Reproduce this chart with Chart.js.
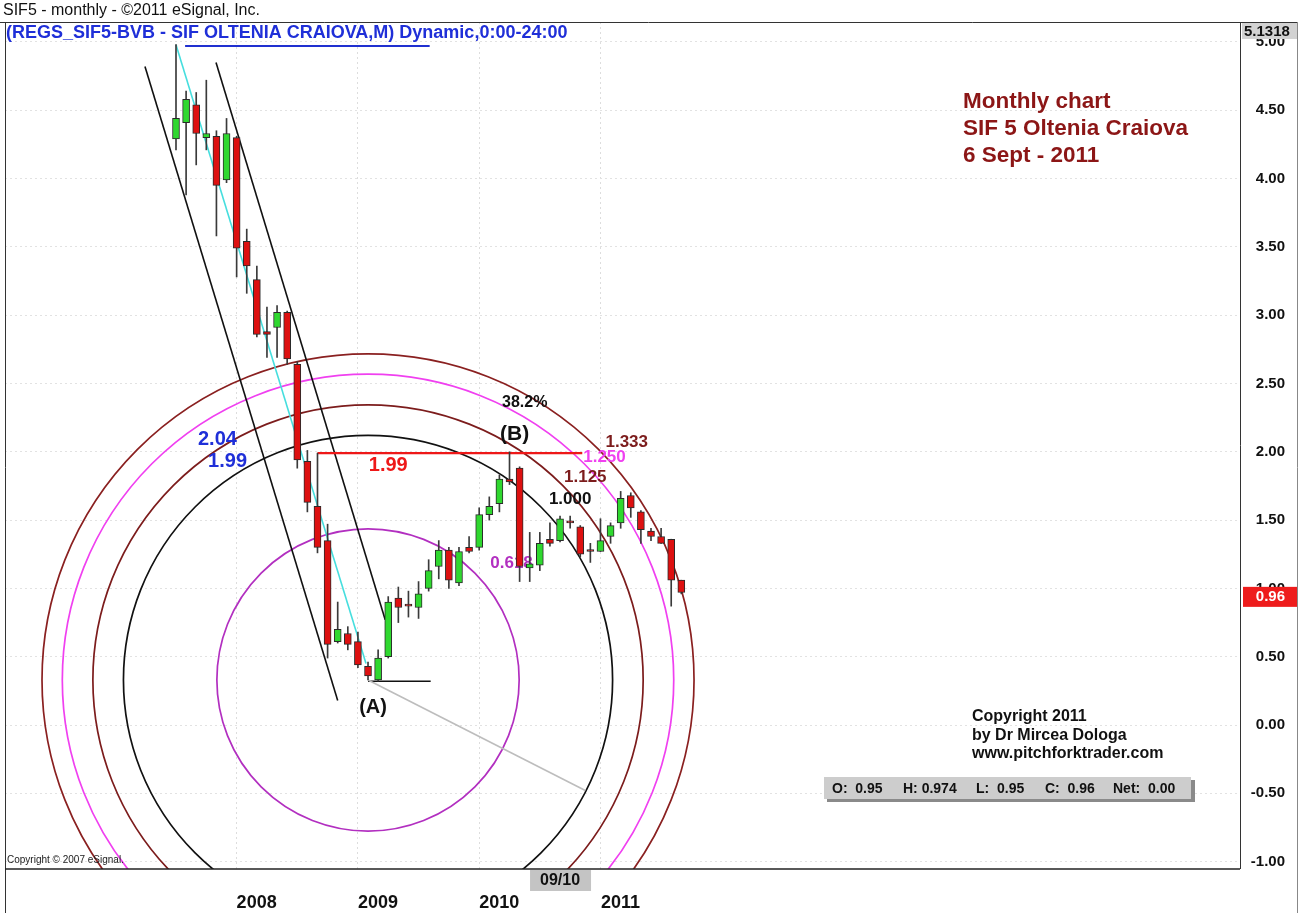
<!DOCTYPE html>
<html>
<head>
<meta charset="utf-8">
<title>SIF5 monthly</title>
<script src="https://cdn.jsdelivr.net/npm/chart.js@4.4.1/dist/chart.umd.min.js"></script>
<style>
  html, body { margin: 0; padding: 0; background: #fff; }
</style>
</head>
<body>
<canvas id="sifChart" width="1311" height="913"></canvas>
<script>
// monthly candles, Jul 2007 .. Sep 2011 (index 0 = Jul 2007)
const months = [];
for (let i = 0; i < 51; i++) {
  const m = (6 + i) % 12, yr = 2007 + Math.floor((6 + i) / 12);
  months.push(String(m + 1).padStart(2, '0') + '/' + String(yr).slice(2));
}
const openV  = [4.29, 4.41, 4.54, 4.30, 4.31, 3.99, 4.30, 3.54, 3.26, 2.88, 2.91, 3.02, 2.64, 1.93, 1.60, 1.35, 0.61,
                0.67, 0.61, 0.43, 0.33, 0.50, 0.93, 0.88, 0.86, 1.00, 1.16, 1.28, 1.04, 1.30, 1.30, 1.54, 1.62, 1.80,
                1.88, 1.15, 1.17, 1.36, 1.35, 1.49, 1.45, 1.28, 1.27, 1.38, 1.48, 1.68, 1.56, 1.42, 1.38, 1.36, 1.06];
const highV  = [4.98, 4.64, 4.63, 4.72, 4.35, 4.44, 4.31, 3.63, 3.36, 3.06, 3.07, 3.03, 2.66, 2.01, 1.99, 1.47, 0.90,
                0.72, 0.68, 0.46, 0.55, 0.94, 1.01, 0.98, 1.05, 1.21, 1.35, 1.30, 1.30, 1.38, 1.59, 1.67, 1.83, 2.00,
                1.89, 1.41, 1.41, 1.48, 1.53, 1.53, 1.46, 1.33, 1.51, 1.48, 1.71, 1.70, 1.57, 1.44, 1.44, 1.36, 1.06];
const lowV   = [4.21, 3.88, 4.10, 4.21, 3.58, 3.97, 3.28, 3.16, 2.84, 2.69, 2.69, 2.64, 1.88, 1.56, 1.26, 0.49, 0.60,
                0.55, 0.42, 0.33, 0.32, 0.49, 0.75, 0.79, 0.78, 0.98, 1.07, 1.00, 1.02, 1.26, 1.28, 1.50, 1.56, 1.76,
                1.05, 1.05, 1.13, 1.31, 1.34, 1.44, 1.23, 1.19, 1.27, 1.33, 1.44, 1.52, 1.33, 1.35, 1.33, 0.87, 0.96];
const closeV = [4.44, 4.58, 4.33, 4.33, 3.95, 4.33, 3.49, 3.36, 2.86, 2.86, 3.02, 2.68, 1.94, 1.63, 1.30, 0.59, 0.70,
                0.59, 0.44, 0.36, 0.49, 0.90, 0.86, 0.87, 0.96, 1.13, 1.28, 1.06, 1.27, 1.27, 1.54, 1.60, 1.80, 1.78,
                1.16, 1.18, 1.33, 1.33, 1.51, 1.48, 1.25, 1.27, 1.35, 1.46, 1.66, 1.59, 1.43, 1.38, 1.33, 1.06, 0.97];

const yearLabels = ['2008', '2009', '2010', '2011'];
const yearIndex  = [6, 18, 30, 42];
const priceTicks = [-1, -0.5, 0, 0.5, 1, 1.5, 2, 2.5, 3, 3.5, 4, 4.5, 5];
const lastPrice = 0.96;
const scaleTop = 5.1318;

// drawing tool objects, in (month index, price)
const pivotA = [19, 0.33];
const arcRadius = 24.2;                 // months, radius of the 1.000 circle
const arcRatios = [0.618, 1, 1.125, 1.25, 1.333];
const segStart = [[0, 4.98], [-3.07, 4.82], [3.96, 4.85], [14, 1.99], [19, 0.32], [19, 0.33], [0.9, 4.97]];
const segEnd   = [[18.8, 0.45], [16.0, 0.18], [20.7, 0.77], [40.2, 1.99], [25.2, 0.32], [40.5, -0.48], [25.1, 4.97]];
const noteText = ['38.2%', '(B)', '1.333', '1.250', '1.125', '1.000', '1.99', '2.04', '1.99', '(A)'];
const noteAt   = [[34.5, 2.36], [33.5, 2.13], [44.6, 2.07], [42.4, 1.96], [40.5, 1.81], [39.0, 1.65],
                  [21.0, 1.90], [4.1, 2.09], [5.1, 1.93], [19.5, 0.13]];
const fibLabel = ['0.618', [33.2, 1.18]];

const bodyData = openV.map((o, i) => ({ x: i, y: [o, closeV[i]] }));
const wickData = lowV.map((l, i) => ({ x: i, y: [l, highV[i]] }));
const bodyColors = openV.map((o, i) => closeV[i] >= o ? '#2fd82f' : '#dd1010');

const FONT = '"Liberation Sans", Arial, sans-serif';

const drawings = {
  id: 'drawings',
  beforeDatasetsDraw(chart) {
    const { ctx, chartArea: a, scales: { x, y } } = chart;
    ctx.save();
    ctx.beginPath();
    ctx.rect(a.left, a.top, a.right - a.left, a.bottom - a.top);
    ctx.clip();
    const cx = x.getPixelForValue(pivotA[0]), cy = y.getPixelForValue(pivotA[1]);
    const r1 = x.getPixelForValue(pivotA[0] + arcRadius) - cx;
    const arcCol = ['#b22fc0', '#111111', '#7c1c1c', '#f040f0', '#8a2020'];
    arcRatios.forEach((k, n) => {
      ctx.strokeStyle = arcCol[n];
      ctx.lineWidth = 1.7;
      ctx.beginPath();
      ctx.arc(cx, cy, r1 * k, 0, Math.PI * 2);
      ctx.stroke();
    });
    const segCol = ['#46dede', '#111', '#111', '#ee1818', '#111', '#bdbdbd', '#2030d0'];
    const segW = [1.6, 1.6, 1.6, 2.2, 1.6, 1.6, 2];
    segStart.forEach((s, n) => {
      ctx.strokeStyle = segCol[n];
      ctx.lineWidth = segW[n];
      ctx.beginPath();
      ctx.moveTo(x.getPixelForValue(s[0]), y.getPixelForValue(s[1]));
      ctx.lineTo(x.getPixelForValue(segEnd[n][0]), y.getPixelForValue(segEnd[n][1]));
      ctx.stroke();
    });
    ctx.font = 'bold 17px ' + FONT;
    ctx.fillStyle = '#b22fc0';
    ctx.textAlign = 'center';
    ctx.textBaseline = 'middle';
    ctx.fillText(fibLabel[0], x.getPixelForValue(fibLabel[1][0]), y.getPixelForValue(fibLabel[1][1]));
    ctx.restore();
  },
  afterDatasetsDraw(chart) {
    const { ctx, scales: { x, y } } = chart;
    const col = ['#111', '#111', '#7c1c1c', '#f040f0', '#7c1c1c', '#111', '#ee1818', '#1f2fd8', '#1f2fd8', '#111'];
    const size = [16, 21, 17, 17, 17, 17, 20, 20, 20, 20];
    ctx.save();
    ctx.textAlign = 'center';
    ctx.textBaseline = 'middle';
    noteText.forEach((t, n) => {
      ctx.font = 'bold ' + size[n] + 'px ' + FONT;
      ctx.fillStyle = col[n];
      ctx.fillText(t, x.getPixelForValue(noteAt[n][0]), y.getPixelForValue(noteAt[n][1]));
    });
    ctx.restore();
  },
  afterDraw(chart) {
    const { ctx, chartArea: a, scales: { x, y } } = chart;
    ctx.save();
    // frame
    ctx.strokeStyle = '#333';
    ctx.lineWidth = 1;
    ctx.beginPath();
    ctx.moveTo(0, a.top + 0.5); ctx.lineTo(1297, a.top + 0.5);
    ctx.moveTo(a.left + 0.5, a.top); ctx.lineTo(a.left + 0.5, 913);
    ctx.moveTo(a.right + 0.5, a.top); ctx.lineTo(a.right + 0.5, a.bottom);
    ctx.stroke();
    ctx.strokeStyle = '#888';
    ctx.beginPath();
    ctx.moveTo(1297.5, a.top); ctx.lineTo(1297.5, 913);
    ctx.stroke();
    ctx.strokeStyle = '#222';
    ctx.lineWidth = 1.6;
    ctx.beginPath();
    ctx.moveTo(a.left, a.bottom); ctx.lineTo(a.right, a.bottom);
    ctx.stroke();

    // header
    ctx.textBaseline = 'middle';
    ctx.textAlign = 'left';
    ctx.fillStyle = '#111';
    ctx.font = '16px ' + FONT;
    ctx.fillText('SIF5 - monthly - \u00a92011 eSignal, Inc.', 3, 11);
    ctx.fillStyle = '#1f2fd8';
    ctx.font = 'bold 18px ' + FONT;
    ctx.fillText('(REGS_SIF5-BVB - SIF OLTENIA CRAIOVA,M) Dynamic,0:00-24:00', 6, 33);

    // title block
    ctx.fillStyle = '#8c1616';
    ctx.font = 'bold 22.5px ' + FONT;
    ['Monthly chart', 'SIF 5 Oltenia Craiova', '6 Sept - 2011'].forEach((t, n) => ctx.fillText(t, 963, 102 + n * 27));

    // copyright block
    ctx.fillStyle = '#111';
    ctx.font = 'bold 16px ' + FONT;
    ['Copyright 2011', 'by Dr Mircea Dologa', 'www.pitchforktrader.com'].forEach((t, n) => ctx.fillText(t, 972, 717 + n * 18.5));

    // OHLC box
    ctx.fillStyle = '#8a8a8a';
    ctx.fillRect(827, 780, 368, 22);
    ctx.fillStyle = '#cdcdcd';
    ctx.fillRect(824, 777, 367, 22);
    ctx.fillStyle = '#111';
    ctx.font = 'bold 14px ' + FONT;
    const ohlc = ['O:  0.95', 'H: 0.974', 'L:  0.95', 'C:  0.96', 'Net:  0.00'];
    const ohlcX = [832, 903, 976, 1045, 1113];
    ohlc.forEach((t, n) => ctx.fillText(t, ohlcX[n], 789));

    ctx.font = '10px ' + FONT;
    ctx.fillStyle = '#222';
    ctx.fillText('Copyright \u00a9 2007 eSignal.', 7, 860);

    // cursor date tag
    const cx = x.getPixelForValue(38);
    ctx.fillStyle = '#c4c4c4';
    ctx.fillRect(cx - 30, a.bottom + 1, 61, 21);
    ctx.fillStyle = '#111';
    ctx.textAlign = 'center';
    ctx.font = 'bold 16px ' + FONT;
    ctx.fillText(months[38], cx, a.bottom + 12);

    // price tags on the right scale
    ctx.textAlign = 'left';
    ctx.fillStyle = '#d2d2d2';
    ctx.fillRect(a.right + 2, a.top + 1, 55, 16);
    ctx.fillStyle = '#111';
    ctx.font = 'bold 15px ' + FONT;
    ctx.fillText(String(scaleTop), a.right + 4, a.top + 10);
    const py = y.getPixelForValue(lastPrice);
    ctx.fillStyle = '#ee1c1c';
    ctx.fillRect(a.right + 3, py - 7, 54, 20);
    ctx.fillStyle = '#fff';
    ctx.textAlign = 'right';
    ctx.fillText(lastPrice.toFixed(2), 1285, py + 3);
    ctx.restore();
  }
};

new Chart(document.getElementById('sifChart'), {
  type: 'bar',
  data: {
    datasets: [
      {
        label: 'range',
        data: wickData,
        backgroundColor: '#3a3a3a',
        barThickness: 1,
        grouped: false,
        order: 2
      },
      {
        label: 'body',
        data: bodyData,
        backgroundColor: bodyColors,
        borderColor: '#2a2a2a',
        borderWidth: 1,
        borderSkipped: false,
        barThickness: 7,
        minBarLength: 2,
        grouped: false,
        order: 1
      }
    ]
  },
  options: {
    responsive: false,
    animation: false,
    devicePixelRatio: 1,
    layout: { padding: { top: 22, left: 5, right: 26, bottom: 0 } },
    plugins: { legend: { display: false }, tooltip: { enabled: false } },
    scales: {
      x: {
        type: 'linear',
        min: -16.92,
        max: 105.28,
        offset: false,
        afterBuildTicks: (s) => { s.ticks = yearIndex.map(v => ({ value: v })); },
        afterFit: (s) => { s.height = 44; },
        grid: { offset: false, color: '#dddddd', drawTicks: false },
        border: { display: false, dash: [2, 3] },
        ticks: {
          autoSkip: false,
          maxRotation: 0,
          padding: 23,
          labelOffset: 20,
          color: '#111',
          font: { family: FONT, size: 18, weight: 'bold' },
          callback: (v) => yearLabels[yearIndex.indexOf(v)]
        }
      },
      y: {
        position: 'right',
        min: -1.054,
        max: 5.146,
        afterBuildTicks: (s) => { s.ticks = priceTicks.map(v => ({ value: v })); },
        afterFit: (s) => { s.width = 45; },
        grid: { color: '#e2e2e2', drawTicks: false },
        border: { display: false, dash: [2, 3] },
        ticks: {
          padding: 6,
          crossAlign: 'far',
          color: '#111',
          font: { family: FONT, size: 15, weight: 'bold' },
          callback: (v) => v.toFixed(2)
        }
      }
    }
  },
  plugins: [drawings]
});
</script>
</body>
</html>
